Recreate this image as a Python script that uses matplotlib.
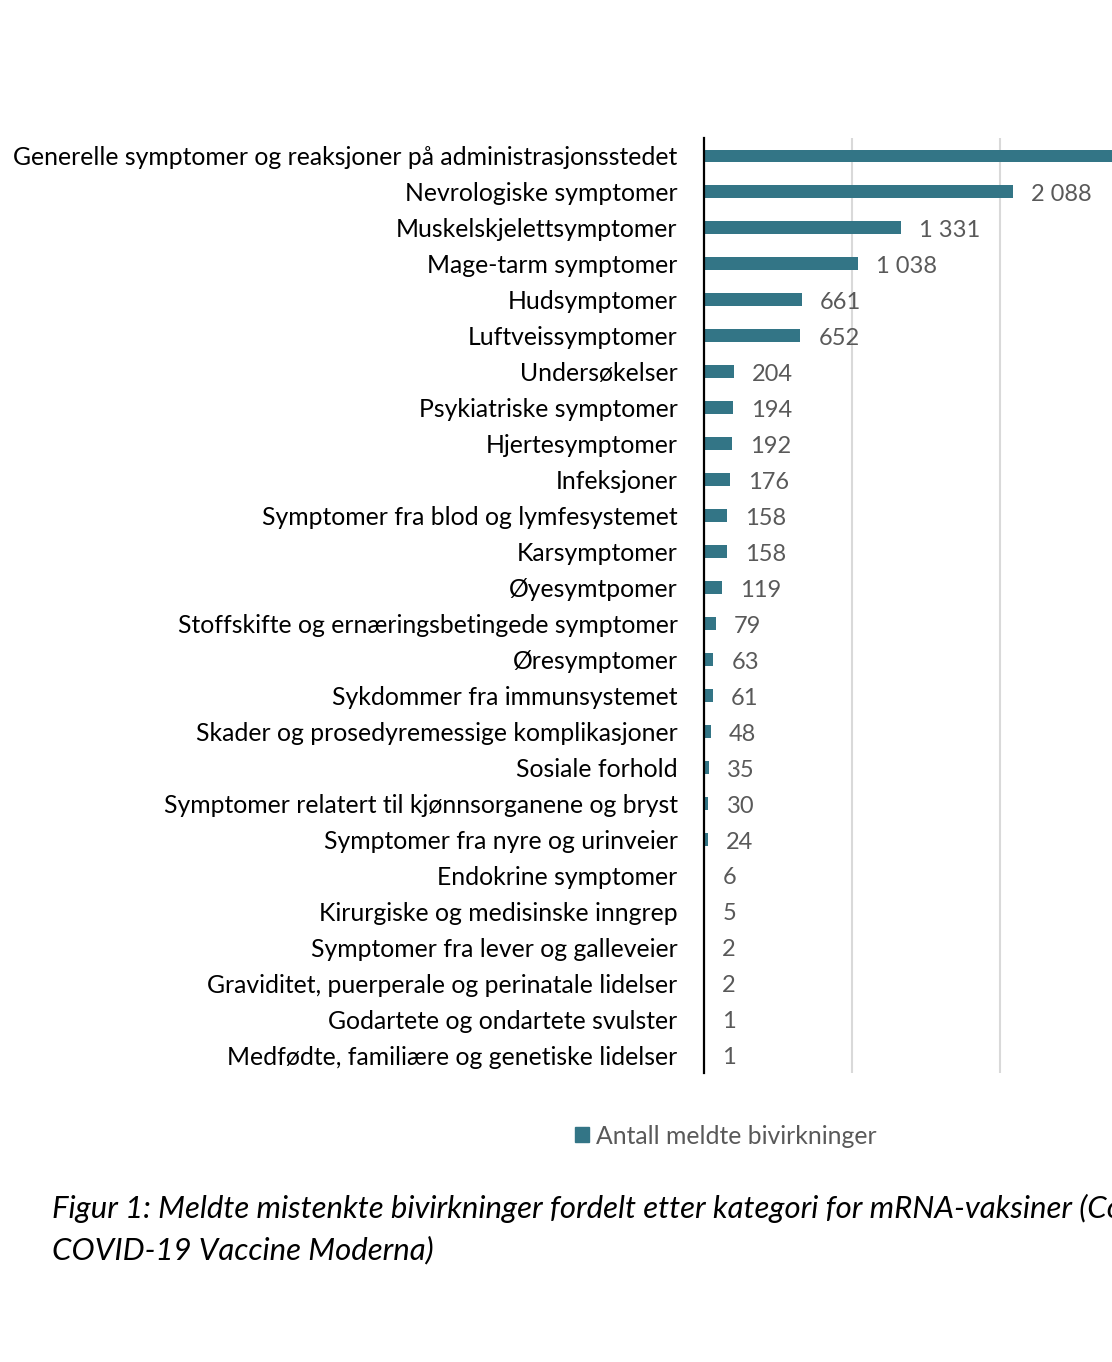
import matplotlib
matplotlib.use("Agg")
import matplotlib.pyplot as plt
from matplotlib.patches import Patch

categories = [
    "Generelle symptomer og reaksjoner på administrasjonsstedet",
    "Nevrologiske symptomer",
    "Muskelskjelettsymptomer",
    "Mage-tarm symptomer",
    "Hudsymptomer",
    "Luftveissymptomer",
    "Undersøkelser",
    "Psykiatriske symptomer",
    "Hjertesymptomer",
    "Infeksjoner",
    "Symptomer fra blod og lymfesystemet",
    "Karsymptomer",
    "Øyesymtpomer",
    "Stoffskifte og ernæringsbetingede symptomer",
    "Øresymptomer",
    "Sykdommer fra immunsystemet",
    "Skader og prosedyremessige komplikasjoner",
    "Sosiale forhold",
    "Symptomer relatert til kjønnsorganene og bryst",
    "Symptomer fra nyre og urinveier",
    "Endokrine symptomer",
    "Kirurgiske og medisinske inngrep",
    "Symptomer fra lever og galleveier",
    "Graviditet, puerperale og perinatale lidelser",
    "Godartete og ondartete svulster",
    "Medfødte, familiære og genetiske lidelser",
]
values = [4200, 2088, 1331, 1038, 661, 652, 204, 194, 192, 176, 158, 158, 119,
          79, 63, 61, 48, 35, 30, 24, 6, 5, 2, 2, 1, 1]
series_name = "Antall meldte bivirkninger"
caption_lines = [
    "Figur 1: Meldte mistenkte bivirkninger fordelt etter kategori for mRNA-vaksiner (Comirnaty og",
    "COVID-19 Vaccine Moderna)",
]

bar_color = "#337586"
label_color = "#595959"
plt.rcParams['font.family'] = ['Lato', 'DejaVu Sans']

W, H = 1112, 1362
fig = plt.figure(figsize=(W / 100, H / 100), dpi=100)
left, top, bottom = 704, 138, 1073
xmax = 3000
px_per_unit = 0.148
width_px = xmax * px_per_unit
ax = fig.add_axes([left / W, 1 - bottom / H, width_px / W, (bottom - top) / H])

y = list(range(len(categories)))
ax.barh(y, values, height=0.36, color=bar_color, zorder=3)
ax.set_ylim(len(categories) - 0.5, -0.5)
ax.set_xlim(0, xmax)
ax.set_yticks(y)
ax.set_yticklabels(categories, fontsize=17.8, color="black")
ax.tick_params(axis='y', length=0, pad=19)
ax.tick_params(axis='x', length=0, labelbottom=False)
ax.set_xticks([1000, 2000, 3000])
ax.grid(axis='x', color="#d9d9d9", linewidth=1.5, zorder=0)
for s in ["top", "right", "bottom"]:
    ax.spines[s].set_visible(False)
ax.spines["left"].set_linewidth(1.6)
ax.spines["left"].set_color("black")
ax.spines["left"].set_zorder(4)

for yi, v in zip(y, values):
    ax.annotate(f"{v:,}".replace(",", " "), xy=(v, yi), xytext=(13, -2),
                textcoords="offset points", va="center", ha="left",
                fontsize=17, color=label_color, annotation_clip=False)

fig.legend(handles=[Patch(color=bar_color, label=series_name)],
           loc="center", bbox_to_anchor=(726 / W, 1 - 1136 / H),
           frameon=False, fontsize=17.8, handlelength=0.55, handleheight=0.55,
           handletextpad=0.3, labelcolor=label_color)

for line, ypx in zip(caption_lines, [1208, 1250]):
    fig.text(52 / W, 1 - ypx / H, line, fontsize=22.4, style="italic",
             ha="left", va="center", color="black")

fig.savefig("out.png", dpi=100)
